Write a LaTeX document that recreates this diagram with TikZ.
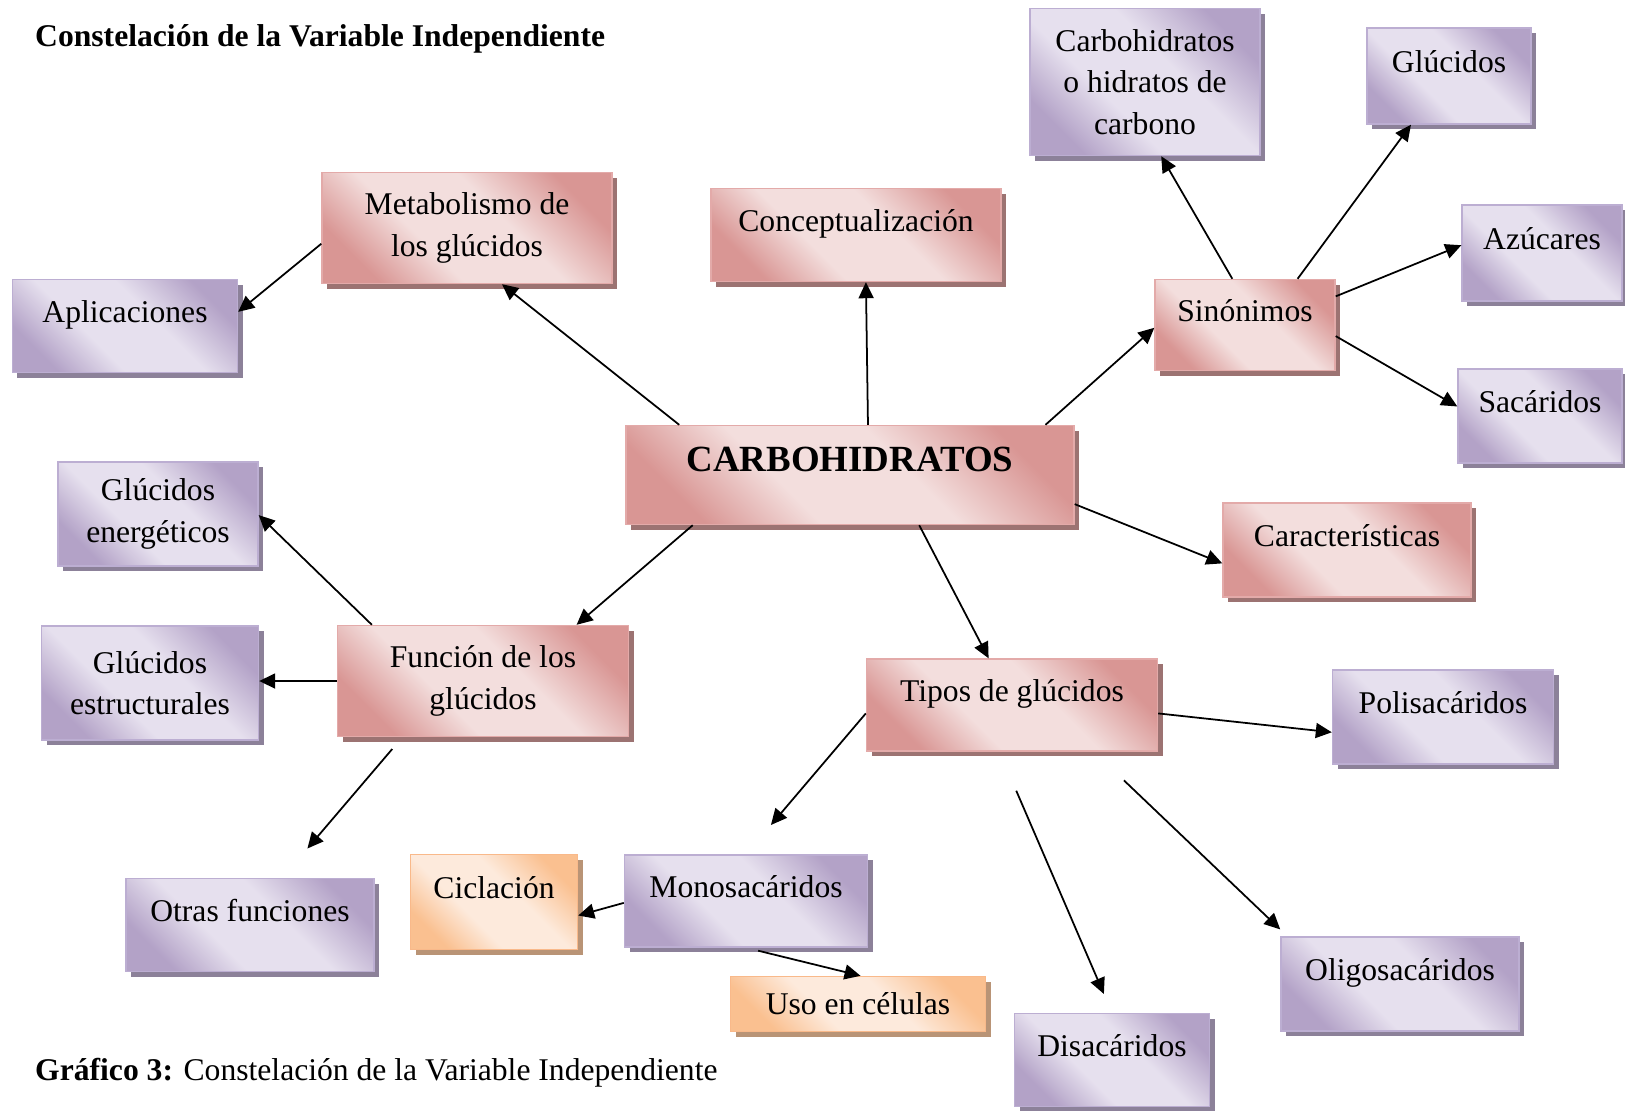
\documentclass[tikz,border=0pt]{standalone}
\usepackage{fontspec}
\setmainfont{Liberation Serif}
\usepackage{tikz}
\usetikzlibrary{arrows.meta,positioning,shadows,calc}
\definecolor{rosedark}{HTML}{D99694}
\definecolor{roselight}{HTML}{F3DEDD}
\definecolor{roseline}{HTML}{E3AAA9}
\definecolor{lilacdark}{HTML}{B3A2C7}
\definecolor{lilaclight}{HTML}{E6E0EE}
\definecolor{lilacline}{HTML}{BCAED2}
\definecolor{peachdark}{HTML}{FAC090}
\definecolor{peachlight}{HTML}{FDEADC}
\definecolor{peachline}{HTML}{F9B98A}
\pgfdeclareverticalshading{roseshade}{100bp}{color(0bp)=(rosedark); color(25bp)=(rosedark);
    color(40bp)=(roselight); color(58bp)=(roselight); color(75bp)=(rosedark); color(100bp)=(rosedark)}
\pgfdeclareverticalshading{lilacshade}{100bp}{color(0bp)=(lilacdark); color(25bp)=(lilacdark);
    color(40bp)=(lilaclight); color(58bp)=(lilaclight); color(75bp)=(lilacdark); color(100bp)=(lilacdark)}
\pgfdeclareverticalshading{peachshade}{100bp}{color(0bp)=(peachdark); color(25bp)=(peachdark);
    color(40bp)=(peachlight); color(58bp)=(peachlight); color(75bp)=(peachdark); color(100bp)=(peachdark)}

\begin{document}
\begin{tikzpicture}[x=0.02cm, y=-0.02cm,
        font=\fontsize{18}{23.5}\selectfont,
        box/.style={rectangle, inner sep=0pt, align=center, line width=0.8pt},
        boxsize/.style 2 args={minimum width=#1*0.02cm, minimum height=#2*0.02cm},
        pinkbox/.style={box, draw=roseline, shade, shading=roseshade, shading angle=-45,
                    drop shadow={shadow xshift=0.1cm, shadow yshift=-0.1cm, fill=black!25!rosedark!80!gray, opacity=1}},
        purplebox/.style={box, draw=lilacline, shade, shading=lilacshade, shading angle=-45,
                    drop shadow={shadow xshift=0.1cm, shadow yshift=-0.1cm, fill=black!20!lilacdark!80!gray, opacity=1}},
        orangebox/.style={box, draw=peachline, shade, shading=peachshade, shading angle=-45,
                    drop shadow={shadow xshift=0.1cm, shadow yshift=-0.1cm, fill=black!20!peachdark!80!gray, opacity=1}},
        onebox/.style={text height=13pt, text depth=17.5pt},
        arrow/.style={-{Triangle[length=0.32cm, width=0.3cm]}, line width=1pt, black}
    ]
    \useasboundingbox (0,0) rectangle (1625,1110);
    \clip (0,0) rectangle (1625,1110);

    \node[anchor=west, font=\fontsize{18}{23.5}\selectfont\bfseries] (titulo) at (29,39) {Constelación de la Variable Independiente};

    \node[pinkbox, boxsize={448}{99}, text height=15pt, text depth=18.6pt,
          font=\fontsize{21}{25}\selectfont\bfseries] (carb) at (850,475) {CARBOHIDRATOS};
    \node[pinkbox, boxsize={290}{111}] (meta) at (467,228) {Metabolismo de\\los glúcidos};
    \node[pinkbox, onebox, boxsize={290}{93}] (concep) at (856,235) {Conceptualización};
    \node[pinkbox, onebox, boxsize={180}{91}] (sinon) at (1245,325) {Sinónimos};
    \node[pinkbox, onebox, boxsize={248}{94}] (caract) at (1347,550) {Características};
    \node[pinkbox, boxsize={291}{111}] (funcion) at (483,681) {Función de los\\glúcidos};
    \node[pinkbox, onebox, boxsize={291}{92}] (tipos) at (1012,705) {Tipos de glúcidos};

    \node[purplebox, onebox, boxsize={225}{93}] (aplic) at (125,326) {Aplicaciones};
    \node[purplebox, boxsize={230}{147}] (hidrat) at (1145,82) {Carbohidratos\\o hidratos de\\carbono};
    \node[purplebox, onebox, boxsize={164}{96}] (gluc) at (1449,76) {Glúcidos};
    \node[purplebox, onebox, boxsize={160}{96}] (azuc) at (1542,253) {Azúcares};
    \node[purplebox, onebox, boxsize={164}{94}] (sacar) at (1540,416) {Sacáridos};
    \node[purplebox, boxsize={200}{104}] (energ) at (158,514) {Glúcidos\\energéticos};
    \node[purplebox, boxsize={217}{114}] (estruc) at (150,683) {Glúcidos\\estructurales};
    \node[purplebox, onebox, boxsize={221}{94}] (polis) at (1443,717) {Polisacáridos};
    \node[purplebox, onebox, boxsize={248}{93}] (otras) at (250,925) {Otras funciones};
    \node[purplebox, onebox, boxsize={243}{92}] (monos) at (746,901) {Monosacáridos};
    \node[purplebox, onebox, boxsize={238}{94}] (oligo) at (1400,984) {Oligosacáridos};
    \node[purplebox, onebox, boxsize={195}{93}] (disac) at (1112,1060) {Disacáridos};

    \node[orangebox, onebox, boxsize={167}{95}] (cicla) at (494,902) {Ciclación};
    \node[orangebox, boxsize={255}{55}] (uso) at (858,1004) {Uso en células};

    \node[anchor=west] (grafico) at (29,1073) {\textbf{Gráfico 3:} Constelación de la Variable Independiente};

    % desde el nodo central
    \draw[arrow] ($(carb.north west)!0.12!(carb.north east)$) -- ($(meta.south west)!0.62!(meta.south east)$);
    \draw[arrow] ($(carb.north west)!0.54!(carb.north east)$) -- ($(concep.south west)!0.534!(concep.south east)$);
    \draw[arrow] ($(carb.north west)!0.935!(carb.north east)$) -- ($(sinon.north west)!0.53!(sinon.south west)$);
    \draw[arrow] ($(carb.north east)!0.79!(carb.south east)$) -- ($(caract.north west)!0.64!(caract.south west)$);
    \draw[arrow] ($(carb.south west)!0.654!(carb.south east)$) -- ($(tipos.north west)!0.42!(tipos.north east)$);
    \draw[arrow] ($(carb.south west)!0.15!(carb.south east)$) -- ($(funcion.north west)!0.82!(funcion.north east)$);

    \draw[arrow] ($(meta.north west)!0.64!(meta.south west)$) -- ($(aplic.north east)!0.35!(aplic.south east)$);

    % sinonimos
    \draw[arrow] ($(sinon.north west)!0.43!(sinon.north east)$) -- ($(hidrat.south west)!0.57!(hidrat.south east)$);
    \draw[arrow] ($(sinon.north west)!0.79!(sinon.north east)$) -- ($(gluc.south west)!0.27!(gluc.south east)$);
    \draw[arrow] ($(sinon.north east)!0.19!(sinon.south east)$) -- ($(azuc.north west)!0.42!(azuc.south west)$);
    \draw[arrow] ($(sinon.north east)!0.62!(sinon.south east)$) -- ($(sacar.north west)!0.40!(sacar.south west)$);

    % funcion de los glucidos
    \draw[arrow] ($(funcion.north west)!0.12!(funcion.north east)$) -- ($(energ.north east)!0.51!(energ.south east)$);
    \draw[arrow] (funcion.west) -- (funcion.west -| estruc.east);
    \draw[arrow, shorten <=0.31cm, shorten >=0.77cm] ($(funcion.south west)!0.224!(funcion.south east)$) -- ($(otras.north west)!0.63!(otras.north east)$);

    % tipos de glucidos
    \draw[arrow, shorten >=0.77cm] ($(tipos.north west)!0.59!(tipos.south west)$) -- (monos.north);
    \draw[arrow] ($(tipos.north east)!0.59!(tipos.south east)$) -- ($(polis.north west)!0.66!(polis.south west)$);
    \draw[arrow, shorten <=0.85cm, shorten >=0.41cm] ($(tipos.south west)!0.457!(tipos.south east)$) -- (disac.north);
    \draw[arrow, shorten <=0.83cm, shorten >=0.2cm] ($(tipos.south west)!0.78!(tipos.south east)$) -- ($(oligo.north west)!0.03!(oligo.north east)$);

    \draw[arrow] ($(monos.north west)!0.52!(monos.south west)$) -- ($(cicla.north east)!0.64!(cicla.south east)$);
    \draw[arrow, shorten <=0.25cm] (monos.south) -- ($(uso.north west)!0.51!(uso.north east)$);
\end{tikzpicture}
\end{document}
